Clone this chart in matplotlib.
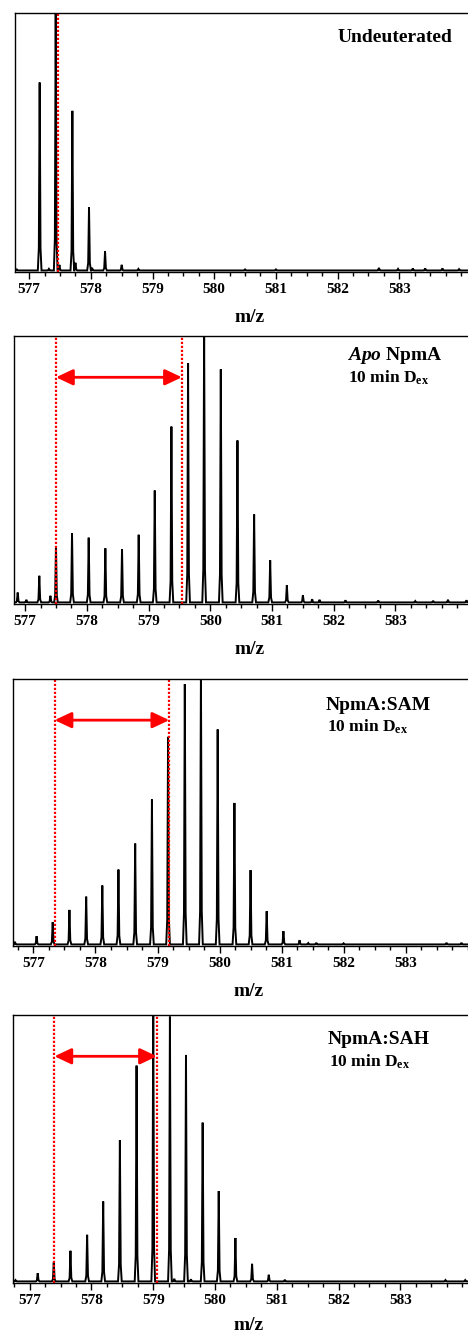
import matplotlib
matplotlib.use('Agg')
from matplotlib import pyplot as plt
from matplotlib.ticker import MultipleLocator, FixedLocator
import numpy as np

# Peak lists (m/z centre, relative intensity)
undeut_mz = [576.80, 577.17, 577.32, 577.43, 577.49, 577.70, 577.75, 577.97, 578.02,
             578.23, 578.50, 578.77, 580.50, 581.00, 582.67, 582.98, 583.22, 583.42, 583.70, 583.97]
undeut_int = [0.004, 0.73, 0.006, 1.03, 0.022, 0.62, 0.030, 0.245, 0.010,
              0.074, 0.022, 0.006, 0.004, 0.004, 0.010, 0.006, 0.008, 0.008, 0.008, 0.005]

apo_mz = [576.88, 577.02, 577.23, 577.41, 577.50, 577.76, 578.03, 578.30, 578.57, 578.84,
          579.10, 579.37, 579.64, 579.90, 580.17, 580.44, 580.71, 580.97, 581.24, 581.50,
          581.65, 581.77, 582.19, 582.72, 583.32, 583.61, 583.85, 584.15]
apo_int = [0.037, 0.010, 0.100, 0.025, 0.210, 0.260, 0.243, 0.203, 0.200, 0.254,
           0.420, 0.660, 0.898, 1.03, 0.875, 0.608, 0.330, 0.158, 0.065, 0.027,
           0.012, 0.010, 0.008, 0.007, 0.005, 0.006, 0.010, 0.008]

sam_mz = [576.70, 577.05, 577.31, 577.58, 577.85, 578.11, 578.37, 578.64, 578.91, 579.17,
          579.44, 579.70, 579.97, 580.24, 580.50, 580.76, 581.03, 581.29, 581.43, 581.56,
          582.00, 583.66, 583.90]
sam_int = [0.010, 0.031, 0.084, 0.130, 0.180, 0.222, 0.282, 0.380, 0.546, 0.782,
           0.981, 1.03, 0.810, 0.533, 0.280, 0.125, 0.050, 0.016, 0.005, 0.006,
           0.004, 0.006, 0.006]

sah_mz = [576.77, 577.13, 577.39, 577.66, 577.93, 578.19, 578.46, 578.73, 579.00, 579.27,
          579.34, 579.53, 579.61, 579.80, 580.06, 580.33, 580.60, 580.87, 581.13, 583.73, 584.05]
sah_int = [0.005, 0.031, 0.072, 0.115, 0.175, 0.300, 0.530, 0.810, 1.03, 0.994,
           0.010, 0.850, 0.008, 0.596, 0.339, 0.163, 0.066, 0.025, 0.006, 0.005, 0.005]

# red dotted markers: undeuterated centroid and deuterated centroid
marks = [[577.46], [577.50, 579.54], [577.34, 579.19], [577.40, 579.06]]
titles = ['Undeuterated', r'$\mathit{Apo}$ NpmA', 'NpmA:SAM', 'NpmA:SAH']
xlims = [(576.77, 584.39), (576.82, 584.45), (576.67, 584.28), (576.73, 584.37)]
spectra = [(undeut_mz, undeut_int), (apo_mz, apo_int), (sam_mz, sam_int), (sah_mz, sah_int)]
major_ticks = [577, 578, 579, 580, 581, 582, 583]

# panel boxes in pixels: (top, bottom, left)
W, H = 468, 1334
boxes = [(13, 272, 15), (336, 604, 14), (679, 946, 13), (1015, 1283, 13)]
right_px = 485

plt.rcParams.update({
    'font.family': 'Liberation Serif',
    'font.weight': 'bold',
    'mathtext.fontset': 'custom',
    'mathtext.rm': 'Liberation Serif:bold',
    'mathtext.it': 'Liberation Serif:italic:bold',
    'mathtext.bf': 'Liberation Serif:bold',
})


def profile(mz, inten, lo, hi, w=0.03):
    # turn a peak list into a stick-like line trace
    xs, ys = [lo], [0.0]
    for c, h in sorted(zip(mz, inten)):
        xs += [c - w, c - 0.45 * w, c, c + 0.45 * w, c + w]
        ys += [0.0, 0.12 * h, h, 0.12 * h, 0.0]
    xs.append(hi)
    ys.append(0.0)
    return xs, ys


fig = plt.figure(figsize=(W / 100, H / 100), dpi=100)

for i, (top, bot, left) in enumerate(boxes):
    ax = fig.add_axes([left / W, 1 - bot / H, (right_px - left) / W, (bot - top) / H])
    lo, hi = xlims[i]
    xs, ys = profile(*spectra[i], lo, hi)
    ax.plot(xs, ys, color='black', lw=1.4, solid_joinstyle='miter')
    for m in marks[i]:
        ax.axvline(m, color='red', ls=(0, (1, 0.8)), lw=1.6)
    if len(marks[i]) == 2:
        ax.annotate('', xy=(marks[i][1], 0.845), xytext=(marks[i][0], 0.845),
                    arrowprops=dict(arrowstyle='<|-|>,head_length=0.85,head_width=0.4',
                                    color='red', lw=2, mutation_scale=12,
                                    shrinkA=0, shrinkB=0))
    ax.set_xlim(lo, hi)
    ax.set_ylim(-0.006, 1.0)
    ax.set_yticks([])
    ax.xaxis.set_major_locator(FixedLocator(major_ticks))
    ax.xaxis.set_minor_locator(MultipleLocator(0.25))
    ax.tick_params(axis='x', which='major', direction='out', length=5, width=1,
                   labelsize=11, pad=3)
    ax.tick_params(axis='x', which='minor', direction='out', length=3, width=1)
    for s in ax.spines.values():
        s.set_linewidth(1.0)
    ax.set_xlabel('m/z', fontsize=14, fontweight='bold', labelpad=7 if i == 3 else 9)

    # panel labels
    if i == 0:
        fig.text(452 / W, 1 - 37 / H, titles[0], ha='right', va='center',
                 fontsize=14, fontweight='bold')
    else:
        tx = [347, 326, 328][i - 1]
        ty = [356, 705, 1040][i - 1]
        fig.text(tx / W, 1 - ty / H, titles[i], ha='left', va='center',
                 fontsize=14, fontweight='bold')
        fig.text((tx + 1) / W, 1 - (ty + 22) / H, r'10 min D$_{\mathbf{ex}}$',
                 ha='left', va='center', fontsize=12.5, fontweight='bold')

fig.savefig('out.png', dpi=100)
